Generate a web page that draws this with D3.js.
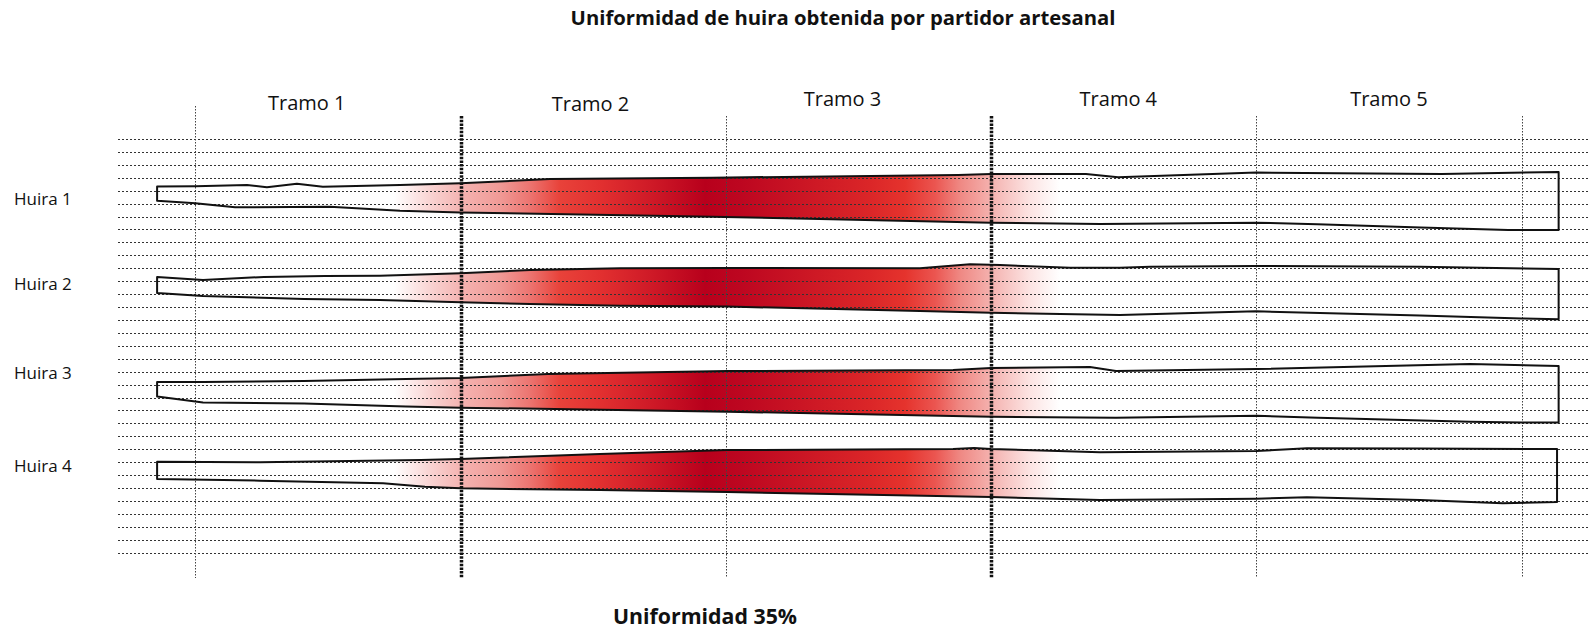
<!DOCTYPE html>
<html>
<head>
<meta charset="utf-8">
<script src="https://cdn.jsdelivr.net/npm/d3@7"></script>
<style>
  html, body { margin: 0; padding: 0; background: #fff; }
  svg { display: block; }
  text { font-family: "Open Sans", "Noto Sans", sans-serif; fill: #111; }
</style>
</head>
<body>
<svg id="chart" width="1590" height="629"></svg>
<script>
// ---------- data ----------
const title = "Uniformidad de huira obtenida por partidor artesanal";
const footer = "Uniformidad 35%";
const tramoLabels = ["Tramo 1", "Tramo 2", "Tramo 3", "Tramo 4", "Tramo 5"];
const tramoLabelPos = [0.42, 1.49, 2.44, 3.48, 4.50];      // x in tramo units
const tramoLabelRow = [-2.25, -2.2, -2.55, -2.55, -2.55];  // y in grid rows (baseline)
const tramoBounds = [0, 1, 2, 3, 4, 5];
const tramoBoundThick = [false, true, false, true, false, false];
const huiraLabels = ["Huira 1", "Huira 2", "Huira 3", "Huira 4"];
const huiraLabelRow = [5.10, 11.68, 18.56, 25.72];
const gridRows = d3.range(0, 33);

// huira outlines: [position along huira (tramo units), row (grid units)]
const huira1Top = [[-0.144,3.67],[0,3.66],[0.195,3.56],[0.27,3.74],[0.383,3.46],[0.481,3.69],[0.772,3.56],[1.0,3.43],[1.337,3.09],[1.948,2.99],[2.876,2.79],[3.0,2.71],[3.358,2.71],[3.479,2.96],[4.0,2.6],[4.7,2.7],[5.14,2.55]];
const huira1Bot = [[-0.144,4.77],[0,4.97],[0.15,5.28],[0.508,5.24],[0.772,5.55],[1.0,5.69],[1.948,6.01],[3.0,6.47],[3.411,6.58],[4.0,6.47],[4.23,6.6],[4.62,6.85],[4.95,7.04],[5.14,7.04]];
const huira2Top = [[-0.144,10.67],[0.029,10.91],[0.259,10.67],[0.489,10.6],[0.696,10.57],[1.0,10.39],[1.262,10.13],[1.601,10.0],[2.005,9.98],[2.732,10.0],[2.921,9.69],[3.034,9.75],[3.298,9.96],[3.486,9.96],[3.6,9.88],[4.0,9.82],[4.617,9.88],[5.14,10.06]];
const huira2Bot = [[-0.144,11.91],[0.029,12.14],[0.41,12.38],[0.696,12.45],[1.0,12.63],[1.262,12.76],[1.601,12.9],[2.005,12.96],[2.732,13.31],[3.0,13.44],[3.486,13.61],[4.0,13.33],[4.617,13.65],[5.0,13.88],[5.14,13.95]];
const huira3Top = [[-0.144,18.8],[0.029,18.8],[0.41,18.72],[0.794,18.56],[1.0,18.49],[1.33,18.18],[2.005,17.95],[2.857,17.87],[3.0,17.71],[3.373,17.64],[3.471,17.95],[4.003,17.79],[4.806,17.4],[5.14,17.56]];
const huira3Bot = [[-0.144,19.92],[0.029,20.38],[0.41,20.46],[0.794,20.7],[1.0,20.78],[2.005,21.09],[3.0,21.49],[3.471,21.57],[4.003,21.41],[4.233,21.57],[4.806,21.88],[5.0,21.93],[5.14,21.93]];
const huira4Top = [[-0.144,24.96],[0.244,25.01],[0.851,24.83],[1.0,24.75],[1.526,24.37],[2.005,24.06],[2.857,23.98],[2.936,23.9],[3.0,23.98],[3.411,24.23],[4.0,24.13],[4.191,23.93],[4.617,23.94],[5.134,23.98]];
const huira4Bot = [[-0.144,26.3],[0.244,26.43],[0.708,26.63],[0.866,26.9],[1.0,27.02],[1.526,27.15],[2.005,27.31],[3.0,27.69],[3.411,27.92],[4.0,27.82],[4.191,27.72],[4.617,27.92],[4.93,28.18],[5.134,28.08]];
const huiras = [
  {name: huiraLabels[0], top: huira1Top, bottom: huira1Bot},
  {name: huiraLabels[1], top: huira2Top, bottom: huira2Bot},
  {name: huiraLabels[2], top: huira3Top, bottom: huira3Bot},
  {name: huiraLabels[3], top: huira4Top, bottom: huira4Bot}
];

// moisture gradient (position in tramo units, colour)
const gradPos = [0.75, 0.88, 0.999, 1.148, 1.262, 1.375, 1.526, 1.715, 1.922, 2.054, 2.28, 2.544, 2.676, 2.789, 2.883, 2.996, 3.147, 3.26];
const gradColor = ["#ffffff","#f9d5d4","#f4b4b2","#f09a96","#ec7470","#e8423a","#e23030","#cf1a27","#b8001c","#bd0620","#ca1524","#db2628","#e5332d","#eb5550","#ef8883","#f4b0ad","#fce4e3","#ffffff"];

// ---------- scales ----------
const W = 1590, H = 629;
const x = d3.scaleLinear().domain([0, 5]).range([195.3, 1521.5]);
const y = d3.scaleLinear().domain([0, 32]).range([139, 552.7]);

const svg = d3.select("#chart");
svg.append("rect").attr("width", W).attr("height", H).attr("fill", "#fff");

const defs = svg.append("defs");
const g0 = x(gradPos[0]), g1 = x(gradPos[gradPos.length - 1]);
const grad = defs.append("linearGradient")
  .attr("id", "wet").attr("gradientUnits", "userSpaceOnUse")
  .attr("x1", g0).attr("x2", g1).attr("y1", 0).attr("y2", 0);
grad.selectAll("stop").data(gradPos).join("stop")
  .attr("offset", d => (x(d) - g0) / (g1 - g0))
  .attr("stop-color", (d, i) => gradColor[i]);

const line = d3.line().x(d => x(d[0])).y(d => y(d[1]));
const outline = h => line(h.top.concat(h.bottom.slice().reverse())) + "Z";

// huira fills
svg.append("g").selectAll("path").data(huiras).join("path")
  .attr("d", outline)
  .attr("fill", "url(#wet)")
  .attr("stroke", "none");

// horizontal grid
svg.append("g").selectAll("line").data(gridRows).join("line")
  .attr("x1", 118).attr("x2", W)
  .attr("y1", d => Math.round(y(d)) + 0.5).attr("y2", d => Math.round(y(d)) + 0.5)
  .attr("stroke", "#333").attr("stroke-width", 1)
  .attr("stroke-dasharray", "2,2");

// vertical tramo boundaries
svg.append("g").selectAll("line").data(tramoBounds).join("line")
  .attr("x1", d => Math.round(x(d)) + 0.5).attr("x2", d => Math.round(x(d)) + 0.5)
  .attr("y1", (d, i) => i === 0 ? 106 : 116)
  .attr("y2", 578)
  .attr("stroke", (d, i) => tramoBoundThick[i] ? "#111" : "#444")
  .attr("stroke-width", (d, i) => tramoBoundThick[i] ? 3.5 : 1)
  .attr("stroke-dasharray", (d, i) => tramoBoundThick[i] ? "2.5,1.2" : "1.5,1.5");

// huira outlines
svg.append("g").selectAll("path").data(huiras).join("path")
  .attr("d", outline)
  .attr("fill", "none")
  .attr("stroke", "#111")
  .attr("stroke-width", 2)
  .attr("stroke-linejoin", "round");

// labels
svg.append("text").attr("x", 843).attr("y", 25)
  .attr("text-anchor", "middle").attr("font-weight", 700).attr("font-size", 20.3)
  .text(title);

svg.append("g").selectAll("text").data(tramoLabels).join("text")
  .attr("x", (d, i) => x(tramoLabelPos[i]))
  .attr("y", (d, i) => y(tramoLabelRow[i]))
  .attr("text-anchor", "middle").attr("font-size", 20)
  .text(d => d);

svg.append("g").selectAll("text").data(huiraLabels).join("text")
  .attr("x", 14)
  .attr("y", (d, i) => y(huiraLabelRow[i]))
  .attr("font-size", 17)
  .text(d => d);

svg.append("text").attr("x", 613).attr("y", 624)
  .attr("font-weight", 700).attr("font-size", 21.3)
  .text(footer);
</script>
</body>
</html>
